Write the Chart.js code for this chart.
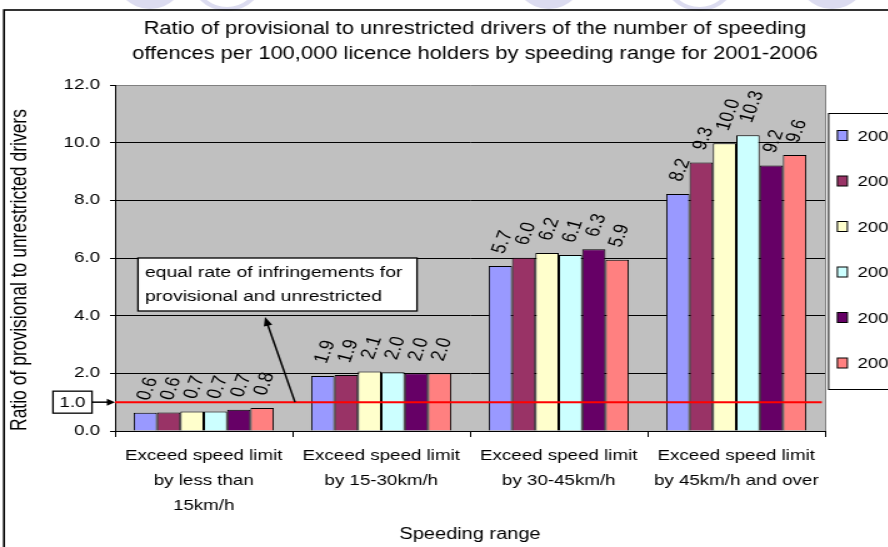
<!DOCTYPE html>
<html>
<head>
<meta charset="utf-8">
<script src="https://cdn.jsdelivr.net/npm/chart.js@4.4.1/dist/chart.umd.min.js"></script>
<style>
    html, body { margin: 0; padding: 0; background: #fff; overflow: hidden; width: 888px; height: 547px; }
    /* the reference text is drawn wide, so the whole chart is stretched sideways */
    #wrap { width: 760px; height: 547px; transform: scaleX(1.25); transform-origin: 0 0; }
</style>
</head>
<body>
<div id="wrap"><canvas id="chRatio" width="760" height="547"></canvas></div>
<script>
var categories = [
    ['Exceed speed limit', 'by less than', '15km/h'],
    ['Exceed speed limit', 'by 15-30km/h'],
    ['Exceed speed limit', 'by 30-45km/h'],
    ['Exceed speed limit', 'by 45km/h and over']
];
var years = ['2001', '2002', '2003', '2004', '2005', '2006'];
var ratio2001 = [0.63, 1.91, 5.72, 8.22];
var ratio2002 = [0.64, 1.94, 6.01, 9.31];
var ratio2003 = [0.68, 2.06, 6.17, 9.98];
var ratio2004 = [0.68, 2.04, 6.10, 10.26];
var ratio2005 = [0.74, 2.00, 6.30, 9.21];
var ratio2006 = [0.80, 2.00, 5.94, 9.57];
var equalRate = 1.0;
var yMin = 0, yMax = 12, yStep = 2;

var titleLines = [
    'Ratio of provisional to unrestricted drivers of the number of speeding',
    'offences per 100,000 licence holders by speeding range for 2001-2006'
];
var noteLines = ['equal rate of infringements for', 'provisional and unrestricted'];

var colors = ['#9999ff', '#993366', '#ffffcc', '#ccffff', '#660066', '#ff8080'];
var series = [ratio2001, ratio2002, ratio2003, ratio2004, ratio2005, ratio2006];
var FONT = '"Liberation Sans", Arial, sans-serif';

var datasets = series.map(function (vals, i) {
    return {
        label: years[i],
        data: vals,
        backgroundColor: colors[i],
        borderColor: '#000',
        borderWidth: 1,
        barPercentage: 1.0,
        categoryPercentage: 0.79
    };
});

function arrow(ctx, x1, y1, x2, y2, len, half) {
    var a = Math.atan2(y2 - y1, x2 - x1);
    ctx.beginPath();
    ctx.moveTo(x1, y1);
    ctx.lineTo(x2 - Math.cos(a) * len * 0.8, y2 - Math.sin(a) * len * 0.8);
    ctx.stroke();
    ctx.beginPath();
    ctx.moveTo(x2, y2);
    ctx.lineTo(x2 - Math.cos(a) * len - Math.sin(a) * half, y2 - Math.sin(a) * len + Math.cos(a) * half);
    ctx.lineTo(x2 - Math.cos(a) * len + Math.sin(a) * half, y2 - Math.sin(a) * len - Math.cos(a) * half);
    ctx.closePath();
    ctx.fill();
}

var backdrop = {
    id: 'backdrop',
    beforeDraw: function (chart) {
        var ctx = chart.ctx, ca = chart.chartArea;
        ctx.save();
        ctx.fillStyle = '#fff';
        ctx.fillRect(0, 0, chart.width, chart.height);
        // faint page decoration above the frame
        [[120, 0], [181.6, 1], [439, 0], [559.6, 1], [665.6, 0]].forEach(function (b) {
            ctx.beginPath();
            ctx.ellipse(b[0], -28, 29, 37, 0, 0, Math.PI * 2);
            if (b[1]) { ctx.strokeStyle = '#dcdcf0'; ctx.lineWidth = 4; ctx.stroke(); }
            else { ctx.fillStyle = '#dcdcf0'; ctx.fill(); }
        });
        ctx.fillStyle = '#c0c0c0';
        ctx.fillRect(ca.left, ca.top, ca.right - ca.left, ca.bottom - ca.top);
        ctx.restore();
    }
};

var overlay = {
    id: 'overlay',
    afterDraw: function (chart) {
        var ctx = chart.ctx, ca = chart.chartArea, y = chart.scales.y;
        var yEq = y.getPixelForValue(equalRate);
        ctx.save();

        // right edge of the plot
        ctx.strokeStyle = '#808080';
        ctx.lineWidth = 1;
        ctx.beginPath();
        ctx.moveTo(ca.right + 0.5, ca.top);
        ctx.lineTo(ca.right + 0.5, ca.bottom);
        ctx.stroke();

        // equal rate line
        ctx.strokeStyle = '#ff0000';
        ctx.lineWidth = 2;
        ctx.beginPath();
        ctx.moveTo(ca.left, yEq);
        ctx.lineTo(ca.right - 2.5, yEq);
        ctx.stroke();

        // value labels
        ctx.fillStyle = '#000';
        ctx.font = '16.5px ' + FONT;
        ctx.textAlign = 'left';
        ctx.textBaseline = 'middle';
        chart.data.datasets.forEach(function (ds, i) {
            chart.getDatasetMeta(i).data.forEach(function (el, j) {
                ctx.save();
                ctx.translate(el.x - 1.5, el.y - 13);
                ctx.rotate(-73 * Math.PI / 180);
                ctx.fillText(ds.data[j].toFixed(1), 0, 0);
                ctx.restore();
            });
        });

        // legend
        ctx.font = '15px ' + FONT;
        var lx = ca.right + 2.4, ly = 113;
        ctx.strokeStyle = '#000';
        ctx.lineWidth = 1;
        ctx.fillStyle = '#fff';
        ctx.fillRect(lx, ly, 200, 276);
        ctx.strokeRect(lx + 0.5, ly + 0.5, 200, 276);
        chart.data.datasets.forEach(function (ds, i) {
            var cy = 135.5 + i * 45.5;
            ctx.fillStyle = ds.backgroundColor;
            ctx.fillRect(lx + 7.5, cy - 5, 8, 10);
            ctx.strokeRect(lx + 7.5, cy - 5, 8, 10);
            ctx.fillStyle = '#000';
            ctx.fillText(ds.label, lx + 23.5, cy + 1);
        });

        // "1.0" marker box with arrow to the axis
        ctx.fillStyle = '#fff';
        ctx.fillRect(42.4, yEq - 11, 31.2, 22);
        ctx.lineWidth = 1.3;
        ctx.strokeRect(42.4, yEq - 11, 31.2, 22);
        ctx.fillStyle = '#000';
        ctx.textAlign = 'center';
        ctx.fillText(equalRate.toFixed(1), 58, yEq + 1);
        ctx.lineWidth = 1.5;
        arrow(ctx, 73.6, yEq, ca.left, yEq, 6.5, 3.5);

        // note box with arrow from the line
        ctx.fillStyle = '#fff';
        ctx.fillRect(ca.left + 18.4, 258, 223.2, 53);
        ctx.lineWidth = 1.3;
        ctx.strokeRect(ca.left + 18.4, 258, 223.2, 53);
        ctx.fillStyle = '#000';
        ctx.textAlign = 'left';
        ctx.font = '15.5px ' + FONT;
        ctx.fillText(noteLines[0], ca.left + 24, 272.5);
        ctx.fillText(noteLines[1], ca.left + 24, 297);
        ctx.lineWidth = 1.5;
        arrow(ctx, ca.left + 144, yEq, ca.left + 120, 317, 9, 3.5);

        // outer frame
        ctx.lineWidth = 1.6;
        ctx.strokeStyle = '#000';
        ctx.strokeRect(3.2, 10, 1000, 1000);
        ctx.restore();
    }
};

new Chart(document.getElementById('chRatio'), {
    type: 'bar',
    data: { labels: categories, datasets: datasets },
    options: {
        responsive: false,
        animation: false,
        devicePixelRatio: 1,
        layout: { padding: 0 },
        plugins: {
            legend: { display: false },
            tooltip: { enabled: false },
            title: {
                display: true,
                text: titleLines,
                color: '#000',
                font: { family: FONT, size: 17.5, weight: 'normal', lineHeight: 25 / 17.5 },
                padding: { top: 16.5, bottom: 18.5 }
            }
        },
        scales: {
            x: {
                afterFit: function (scale) { scale.height = 116; },
                grid: { display: true, drawOnChartArea: false, offset: true, tickLength: 6, color: '#000' },
                border: { color: '#000', width: 1 },
                ticks: {
                    color: '#000', padding: 6, maxRotation: 0, autoSkip: false,
                    font: { family: FONT, size: 15, lineHeight: 25 / 15 }
                },
                title: {
                    display: true, text: 'Speeding range', color: '#000',
                    font: { family: FONT, size: 16 }, padding: { top: 0, bottom: 2.5 }
                }
            },
            y: {
                min: yMin,
                max: yMax,
                afterFit: function (scale) { scale.width = 92; },
                grid: {
                    color: function (c) { return c.tick && c.tick.value === yMax ? '#808080' : '#000'; },
                    tickColor: '#000', tickLength: 4, lineWidth: 1
                },
                border: { color: '#000', width: 1 },
                ticks: {
                    stepSize: yStep, color: '#000', padding: 8,
                    font: { family: FONT, size: 15 },
                    callback: function (v) { return v.toFixed(1); }
                },
                title: {
                    display: true, text: 'Ratio of provisional to unrestricted drivers', color: '#000',
                    align: 'start',
                    font: { family: FONT, size: 17.5 }, padding: { top: 6, bottom: 0 }
                }
            },
            // empty box on the right that keeps room for the legend
            side: {
                position: 'right',
                display: true,
                afterFit: function (scale) { scale.width = 100; },
                grid: { display: false, drawTicks: false },
                border: { display: false },
                ticks: { display: false }
            }
        }
    },
    plugins: [backdrop, overlay]
});
</script>
</body>
</html>
